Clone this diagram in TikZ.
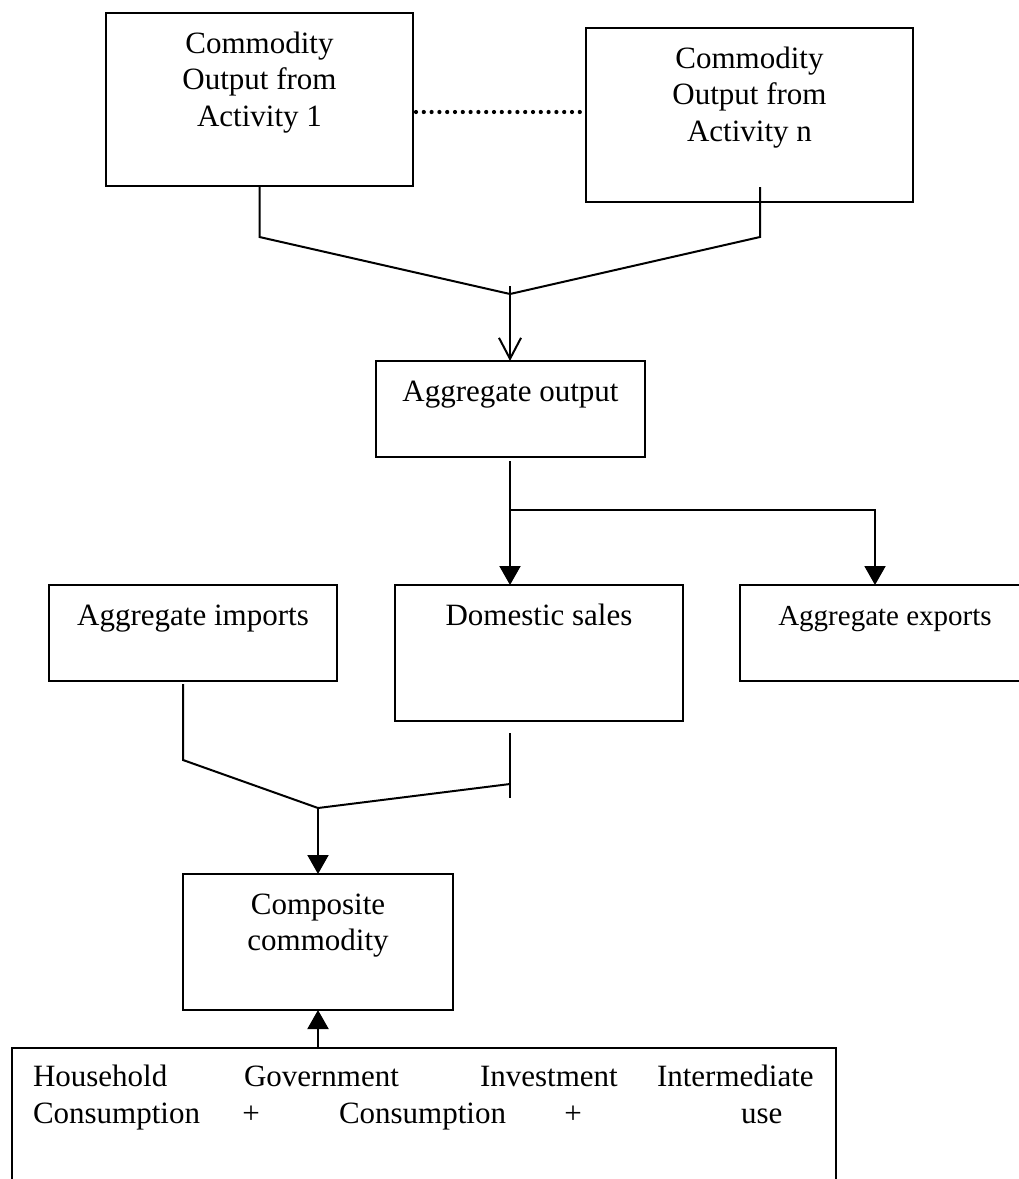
\documentclass[tikz,border=0pt]{standalone}
\usepackage{fontspec}
\setmainfont{Liberation Serif}
\usetikzlibrary{arrows.meta}
\begin{document}
\begin{tikzpicture}[x=1pt,y=-1pt, line width=2pt,
  box/.style={draw, rectangle, inner sep=0pt, outer sep=0pt, anchor=north west},
  lab/.style={font=\fontsize{31}{36.5}\selectfont, align=center, anchor=base, inner sep=0pt},
  labsm/.style={font=\fontsize{29}{34}\selectfont, anchor=base, inner sep=0pt},
  labl/.style={font=\fontsize{31}{36.5}\selectfont, anchor=base west, inner sep=0pt},
  fillarrow/.style={-{Triangle[width=21pt,length=19pt]}},
  openarrow/.style={-{Straight Barb[width=22pt,length=21pt]}},
  dotline/.style={line width=4.2pt, dash pattern=on 0pt off 7.8pt, line cap=round}]
\useasboundingbox (0,0) rectangle (1019,1179);
\fill[white] (0,0) rectangle (1019,1179);
\clip (0,0) rectangle (1019,1179);

% boxes (multi-line labels are anchored at the baseline of their last line)
\node[box, minimum width=307pt, minimum height=173pt] (act1) at (106,13) {};
\node[lab] (act1t) at (259.5,126) {Commodity\\Output from\\Activity 1};
\node[box, minimum width=327pt, minimum height=174pt] (actn) at (586,28) {};
\node[lab] (actnt) at (749.5,141) {Commodity\\Output from\\Activity n};
\node[box, minimum width=269pt, minimum height=96pt] (agg) at (376,361) {};
\node[lab] (aggt) at (510.5,401) {Aggregate output};
\node[box, minimum width=288pt, minimum height=96pt] (imp) at (49,585) {};
\node[lab] (impt) at (193,625) {Aggregate imports};
\node[box, minimum width=288pt, minimum height=136pt] (dom) at (395,585) {};
\node[lab] (domt) at (539,625) {Domestic sales};
\node[box, minimum width=300pt, minimum height=96pt] (exp) at (740,585) {};
\node[labsm] (expt) at (885,625) {Aggregate exports};
\node[box, minimum width=270pt, minimum height=136pt] (comp) at (183,874) {};
\node[lab] (compt) at (318,950.5) {Composite\\commodity};
\node[box, minimum width=824pt, minimum height=160pt] (dem) at (12,1048) {};

\node[labl] (hh) at (32,1086) {Household};
\node[labl] (gov) at (243,1086) {Government};
\node[labl] (inv) at (479,1086) {Investment};
\node[labl] (intm) at (656,1086) {Intermediate};
\node[labl] (c1) at (32,1123) {Consumption};
\node[lab] (p1) at (251,1123) {+};
\node[labl] (c2) at (338,1123) {Consumption};
\node[lab] (p2) at (573,1123) {+};
\node[labl] (usew) at (740,1123) {use};

% dotted link
\coordinate (dl) at (0,112);
\draw[dotline] ([xshift=3pt]act1.east |- dl) -- (actn.west |- dl);

% top merge
\coordinate (j1) at (510,294);
\draw (act1.south) -- ++(0,51) -- (j1);
\draw ([xshift=10.5pt,yshift=15pt]actn.south) -- ++(0,50) -- (j1);
\draw (j1) -- ++(0,-8);
\draw[openarrow] (j1) -- (j1 |- agg.north);

% split
\coordinate (b1) at (510,510);
\coordinate (b2) at (875,510);
\draw[fillarrow] ([xshift=-0.5pt,yshift=-4pt]agg.south) -- (b1 |- dom.north);
\draw[fillarrow] (b1) -- (b2) -- (b2 |- exp.north);

% lower merge
\coordinate (j2) at (318,808);
\coordinate (dt1) at (510,733);
\coordinate (dt2) at (510,798);
\coordinate (dt3) at (510,784);
\draw ([xshift=-10pt,yshift=-3pt]imp.south) -- ++(0,76) -- (j2);
\draw (dt1) -- (dt2);
\draw (dt3) -- (j2);
\draw[fillarrow] (j2) -- (j2 |- comp.north);

% demand to composite
\draw[fillarrow] (dem.north -| comp.south) -- (comp.south);
\end{tikzpicture}
\end{document}
